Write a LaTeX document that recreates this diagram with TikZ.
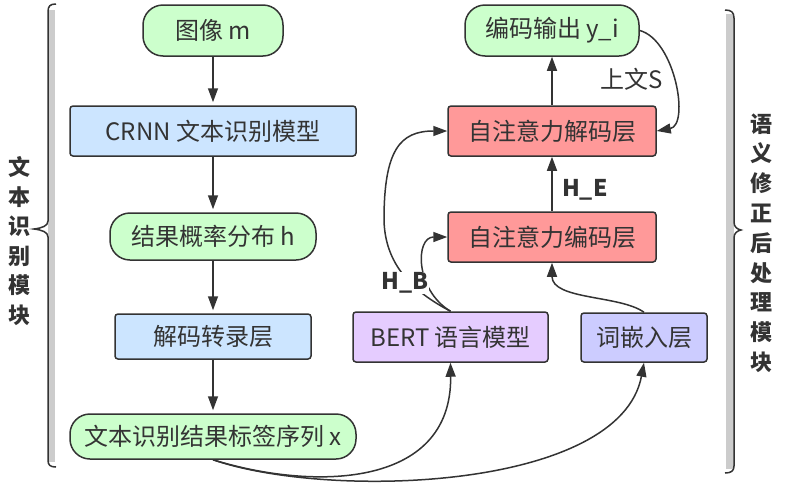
\documentclass[tikz,border=0pt]{standalone}
\usepackage{fontspec}
\setmainfont{Noto Sans CJK SC}
\usetikzlibrary{arrows.meta}

\definecolor{lineC}{HTML}{333333}
\definecolor{greenF}{HTML}{CCFFCC}
\definecolor{blueF}{HTML}{CCE5FF}
\definecolor{redF}{HTML}{FF9999}
\definecolor{purpleF}{HTML}{E5CCFF}
\definecolor{violetF}{HTML}{CCCCFF}
\definecolor{braceF}{HTML}{CCCCCC}

\begin{document}
\begin{tikzpicture}[x=1pt, y=-1pt,
    every node/.style={font=\fontsize{24}{28}\selectfont, text=lineC},
    box/.style={draw=lineC, line width=1.5pt, inner sep=0pt, minimum height=50pt, rounded corners=3pt},
    roundbox/.style={box, fill=greenF, rounded corners=20pt},
    arr/.style={draw=lineC, line width=1.5pt, -{Triangle[length=14pt, width=10pt]}},
    bracket/.style={draw=lineC, line width=1.5pt}]
    \useasboundingbox (0,0) rectangle (785,496);

    % Braces and module names
    \fill[braceF] (48,10) rectangle (55,462);
    \draw[bracket] (56,4) .. controls (50,4) and (48,6) .. (48,12) -- (48,221)
        .. controls (48,226) and (42,228) .. (34,229) .. controls (42,230) and (48,232) .. (48,237)
        -- (48,460) .. controls (48,465) and (50,467) .. (56,467);
    \node[font=\bfseries\fontsize{22}{29.5}\selectfont, align=center] (leftname) at (20,241) {文\\本\\识\\别\\模\\块};

    \fill[braceF] (726,14) rectangle (734,469);
    \draw[bracket] (725,10) .. controls (731,10) and (734,12) .. (734,18) -- (734,222)
        .. controls (734,227) and (737,229) .. (741,230) .. controls (737,231) and (734,233) .. (734,238)
        -- (734,466) .. controls (734,471) and (731,473) .. (725,473);
    \node[font=\bfseries\fontsize{22}{29.8}\selectfont, align=center] (rightname) at (761,243) {语\\义\\修\\正\\后\\处\\理\\模\\块};

    % Text recognition column
    \node[roundbox, minimum width=140pt, minimum height=51pt] (img) at (213,30.5) {图像 m};
    \node[box, fill=blueF, minimum width=286pt] (crnn) at (213,131) {CRNN 文本识别模型};
    \node[roundbox, minimum width=206pt, minimum height=47pt] (prob) at (213,236.5) {结果概率分布 h};
    \node[box, fill=blueF, minimum width=196pt, minimum height=45pt] (ctc) at (213,336.5) {解码转录层};
    \node[roundbox, minimum width=286pt, minimum height=45pt] (xseq) at (213,436.5) {文本识别结果标签序列 x};

    \foreach \a/\b in {img/crnn, crnn/prob, prob/ctc, ctc/xseq} {
        \draw[arr, shorten >=3pt] (\a) -- (\b);
    }

    % Semantic correction column
    \node[roundbox, minimum width=174pt, minimum height=51pt] (yout) at (552,30.5) {编码输出 y\_i};
    \node[box, fill=redF, minimum width=208pt] (dec) at (552,131) {自注意力解码层};
    \node[box, fill=redF, minimum width=208pt] (enc) at (552,237) {自注意力编码层};
    \node[box, fill=purpleF, minimum width=195pt] (bert) at (450.5,337) {BERT 语言模型};
    \node[box, fill=violetF, minimum width=126pt, minimum height=49pt] (emb) at (644,337.5) {词嵌入层};

    \draw[arr] (enc) -- node[pos=0.4, right=6pt, font=\bfseries\fontsize{23}{27}\selectfont] (he) {H\_E} (dec);
    \draw[arr] (dec) -- (yout);
    \draw[arr] (yout.east) .. controls (675,40) and (690,125) .. (dec.east);
    \node (ctxs) at (632,79) {上文S};

    % Curved connectors
    \draw[arr] (bert.north) .. controls (415,290) and (415,237) .. (enc.west);
    \draw[arr] (bert.north) .. controls (420,295) and (385,270) .. (384,220)
        .. controls (384,150) and (400,131) .. (dec.west);
    \node[fill=white, inner sep=1pt, font=\bfseries\fontsize{23}{27}\selectfont] (hb) at (405,283) {H\_B};
    \draw[arr] (emb.north) .. controls (620,295) and (552,300) .. (enc.south);
    \draw[arr] (xseq.south) .. controls (310,490) and (452,490) .. (bert.south);
    \draw[arr] (xseq.south) .. controls (330,500) and (620,490) .. (emb.south);

\end{tikzpicture}
\end{document}
